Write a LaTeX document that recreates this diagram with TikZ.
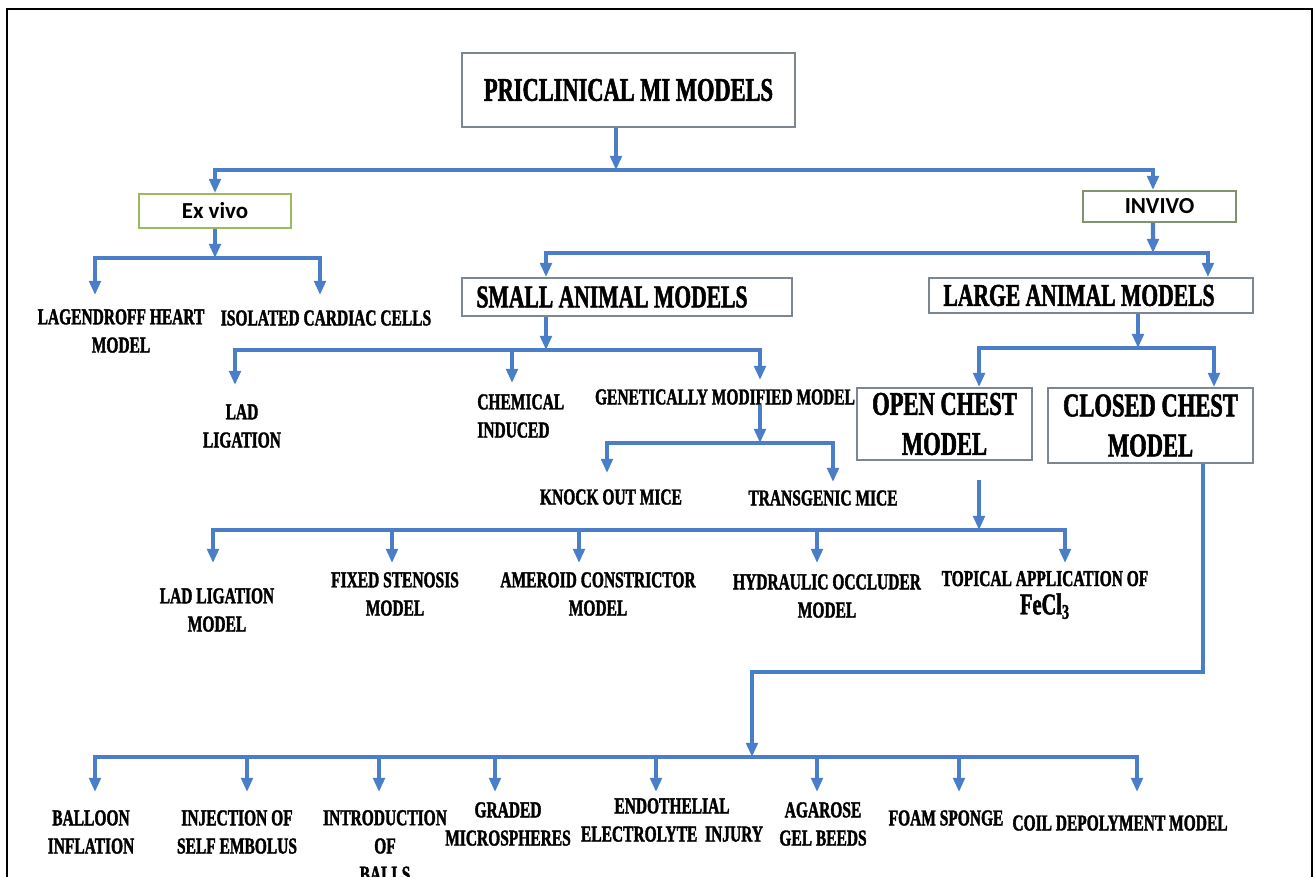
\documentclass[tikz,border=0pt]{standalone}
\usepackage{fontspec}
\usetikzlibrary{arrows.meta}
\newfontfamily\cond[FakeStretch=0.68,FakeBold=1.6]{Liberation Serif}
\newfontfamily\calib{Carlito}
\definecolor{conn}{RGB}{74,126,201}
\definecolor{boxgray}{RGB}{125,135,145}
\definecolor{boxgreen}{RGB}{155,187,89}
\definecolor{boxolive}{RGB}{130,145,110}
\begin{document}
\begin{tikzpicture}[x=0.567pt, y=-0.567pt,
  arr/.style={draw=conn, line width=2.3pt, -{Triangle[width=6.5pt,length=8pt]}},
  box/.style={draw=boxgray, line width=1.1pt, fill=white, inner sep=0pt},
  lab/.style={inner sep=0pt, align=center, font=\cond\bfseries\fontsize{12.9}{16}\selectfont},
  bigfont/.style={font=\cond\bfseries\fontsize{18}{21}\selectfont},
  chestfont/.style={font=\cond\bfseries\fontsize{18.8}{22.7}\selectfont},
  sansfont/.style={font=\calib\bfseries\fontsize{13}{15}\selectfont}]
\useasboundingbox (0,0) rectangle (1315,877);
\clip (0,0) rectangle (1315,877);
\draw[black, line width=1.2pt] (7,9) rectangle (1312,900);

% boxes
\node[box, minimum width=188.8pt, minimum height=42pt, font=\cond\bfseries\fontsize{18.7}{22}\selectfont] (title) at (628.5,90) {PRICLINICAL MI MODELS};
\node[box, draw=boxgreen, minimum width=86.2pt, minimum height=19.3pt, sansfont] (exvivo) at (215,211) {Ex vivo};
\node[box, draw=boxolive, minimum width=86.8pt, minimum height=17.6pt, sansfont] (invivo) at (1159.5,206.5) {INVIVO};
\node[box, minimum width=187.1pt, minimum height=21.5pt, bigfont] (small) at (627,297) {SMALL ANIMAL MODELS\hspace*{17pt}};
\node[box, minimum width=183.7pt, minimum height=19.8pt, bigfont] (large) at (1091,295.5) {LARGE ANIMAL MODELS\hspace*{13.6pt}};
\node[box, align=center, minimum width=99.2pt, minimum height=40.8pt, chestfont] (open) at (944.5,424) {OPEN CHEST\\MODEL};
\node[box, align=center, minimum width=116.2pt, minimum height=42.5pt, chestfont] (closed) at (1150.5,425.5) {CLOSED CHEST\\MODEL};

% labels
\node[lab] (lag) at (121,331) {LAGENDROFF HEART\\MODEL};
\node[lab] (iso) at (326,318) {ISOLATED CARDIAC CELLS};
\node[lab] (lad) at (242,426) {LAD\\LIGATION};
\node[lab, anchor=west, align=left] (chem) at (477,416) {CHEMICAL\\INDUCED};
\node[lab] (gen) at (725,397) {GENETICALLY MODIFIED MODEL};
\node[lab] (ko) at (611,497) {KNOCK OUT MICE};
\node[lab] (tg) at (823,498) {TRANSGENIC MICE};
\node[lab] (ladm) at (217,610) {LAD LIGATION\\MODEL};
\node[lab] (fix) at (395,594) {FIXED STENOSIS\\MODEL};
\node[lab] (ame) at (598,594) {AMEROID CONSTRICTOR\\MODEL};
\node[lab] (hyd) at (827,596) {HYDRAULIC OCCLUDER\\MODEL};
\node[lab] (top) at (1045,595) {TOPICAL APPLICATION OF\\{\fontsize{17}{20}\selectfont FeCl\textsubscript{3}}};
\node[lab] (bal) at (91,832) {BALLOON\\INFLATION};
\node[lab] (inj) at (237,832) {INJECTION OF\\SELF EMBOLUS};
\node[lab] (intro) at (385,846) {INTRODUCTION\\OF\\BALLS};
\node[lab] (grad) at (508,824) {GRADED\\MICROSPHERES};
\node[lab] (endo) at (672,820) {ENDOTHELIAL\\ELECTROLYTE\ \ INJURY};
\node[lab] (aga) at (823,824) {AGAROSE\\GEL BEEDS};
\node[lab] (foam) at (946,818) {FOAM SPONGE};
\node[lab] (coil) at (1120,823) {COIL DEPOLYMENT MODEL};

% level 1
\coordinate (t1) at (616,170);
\draw[arr] (title.south -| t1) -- (t1);
\draw[arr] (t1) -| (exvivo.north);
\draw[arr] (t1) -| ([xshift=-3.7pt]invivo.north);

% ex vivo
\coordinate (e1) at (215,258);
\coordinate (lagT) at (95,295);
\coordinate (isoT) at (320,295);
\draw[arr] (exvivo.south) -- (e1);
\draw[arr] (e1) -| (lagT);
\draw[arr] (e1) -| (isoT);

% in vivo
\coordinate (i1) at (1153,253);
\coordinate (s1) at (546,350);
\draw[arr] ([xshift=-3.7pt]invivo.south) -- (i1);
\draw[arr] (i1) -| (small.north -| s1);
\draw[arr] (i1) -| ([xshift=66.3pt]large.north);

% small animal
\coordinate (ladT) at (235,385);
\coordinate (chemT) at (512,383);
\coordinate (genT) at (760,380);
\draw[arr] (small.south -| s1) -- (s1);
\draw[arr] (s1) -| (ladT);
\draw[arr] (s1) -| (chemT);
\draw[arr] (s1) -| (genT);

% genetically modified
\coordinate (g1) at (760,443);
\coordinate (koT) at (607,473);
\coordinate (tgT) at (833,482);
\draw[arr] (gen.south -| g1) -- (g1);
\draw[arr] (g1) -| (koT);
\draw[arr] (g1) -| (tgT);

% large animal
\coordinate (l1) at (1138,348);
\draw[arr] (large.south -| l1) -- (l1);
\draw[arr] (l1) -| ([xshift=19.6pt]open.north);
\draw[arr] (l1) -| ([xshift=36pt]closed.north);

% open chest
\coordinate (o0) at (979,480);
\coordinate (o1) at (979,530);
\draw[arr] (o0) -- (o1);
\foreach \n/\x in {ladmT/213, fixT/392, ameT/579, hydT/817, topT/1065} {
  \coordinate (\n) at (\x,563);
  \draw[arr] (o1) -| (\n);
}

% closed chest
\coordinate (c1) at (1203,672);
\coordinate (c2) at (752,757);
\draw[arr] (closed.south -| c1) -- (c1) -| (c2);
\foreach \n/\x in {balT/95, injT/247, introT/379, gradT/495, endoT/656, agaT/817, foamT/959, coilT/1137} {
  \coordinate (\n) at (\x,792);
  \draw[arr] (c2) -| (\n);
}
\end{tikzpicture}
\end{document}
